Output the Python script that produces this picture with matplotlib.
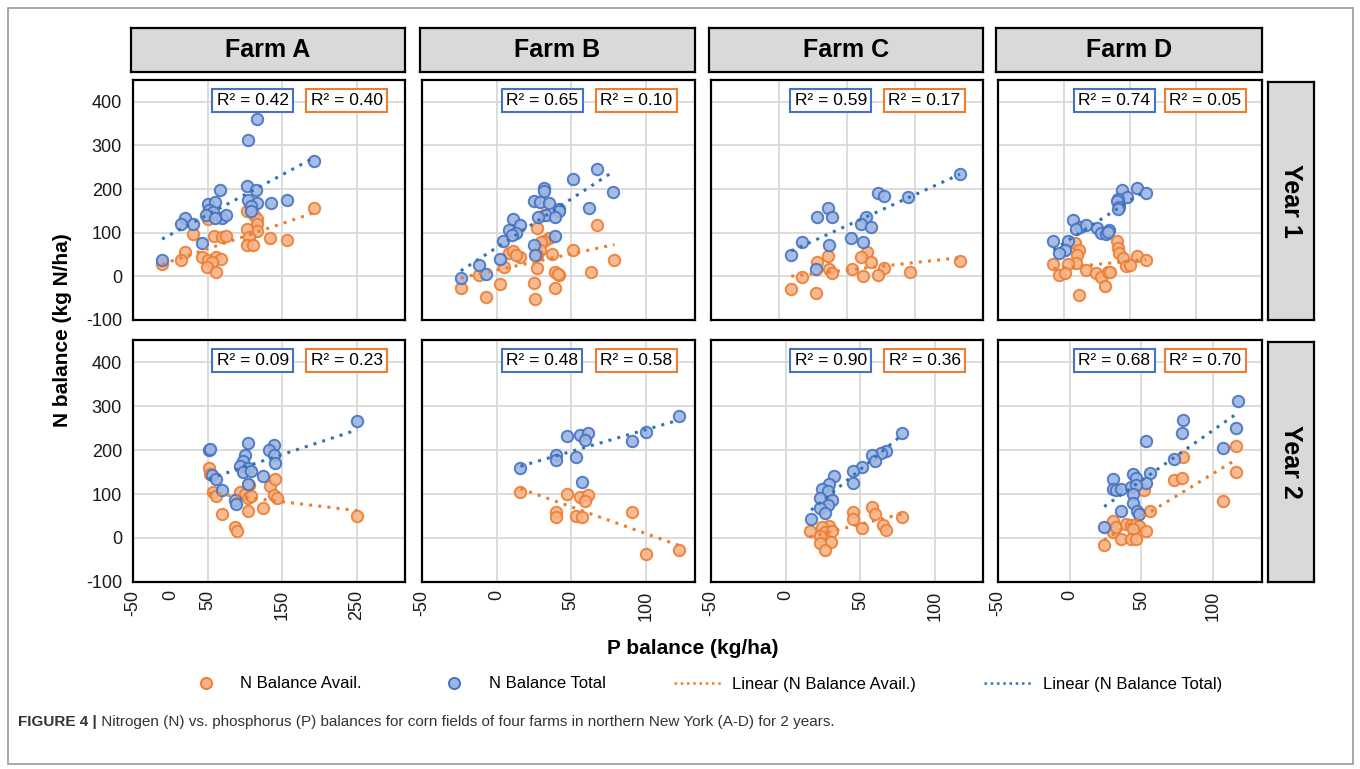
import numpy as np
import matplotlib
matplotlib.use('Agg')
import matplotlib.pyplot as plt
from matplotlib.lines import Line2D
from matplotlib.patches import Rectangle

plt.rcParams['font.family'] = ['Liberation Sans', 'DejaVu Sans']

# ---- data: (P balance, N balance) ----
# Farm A, year 1
a1_p_tot = [116, 104, 193, 67, 103, 115, 50, 60, 104, 117, 135, 157, 52, 57, 48, 70, 75, 60, 20, 14, 30, 108, 108, 43, -11]
a1_n_tot = [361, 313, 265, 199, 208, 198, 166, 171, 174, 168, 168, 175, 153, 147, 141, 134, 140, 134, 134, 120, 120, 161, 149, 76, 37]
a1_p_av = [193, 103, 112, 116, 116, 117, 103, 106, 134, 156, 103, 111, 59, 70, 75, 30, 50, 20, 14, -11, 43, 50, 61, 68, 56, 49, 61]
a1_n_av = [157, 149, 141, 131, 120, 103, 109, 91, 87, 83, 72, 73, 93, 91, 93, 97, 132, 56, 37, 29, 45, 37, 45, 39, 32, 22, 10]
# Farm B, year 1
b1_p_tot = [67, 78, 51, 62, 32, 32, 25, 29, 35, 42, 42, 33, 28, 39, 11, 16, 8, 13, 10, 4, 39, 25, 26, 2, -12, -7, -24]
b1_n_tot = [247, 193, 222, 156, 202, 195, 172, 170, 169, 155, 149, 140, 136, 136, 132, 117, 107, 99, 95, 82, 92, 71, 48, 40, 27, 6, -3]
b1_p_av = [32, 27, 67, 35, 32, 30, 51, 8, 11, 16, 13, 29, 27, 37, 5, 27, 79, 39, 42, 41, 63, -12, -24, 2, 25, 39, -7, 26]
b1_n_av = [141, 111, 118, 89, 82, 79, 60, 54, 57, 44, 48, 60, 48, 52, 21, 19, 37, 10, 2, 5, 10, 2, -26, -17, -15, -26, -47, -53]
# Farm C, year 1
c1_p_tot = [133, 95, 73, 77, 64, 60, 68, 36, 28, 39, 53, 62, 17, 37, 9, 27]
c1_n_tot = [234, 182, 191, 185, 135, 121, 112, 156, 137, 135, 87, 78, 79, 72, 50, 17]
c1_p_av = [133, 65, 60, 68, 77, 96, 73, 62, 54, 36, 28, 37, 39, 17, 9, 27]
c1_n_av = [36, 56, 45, 34, 19, 11, 2, 1, 17, 47, 34, 18, 8, -2, -29, -38]
# Farm D, year 1
d1_p_tot = [55, 62, 44, 48, 41, 40, 42, 41, 7, 12, 9, 17, 25, 28, 32, 34, 33, -8, 3, 0.5, -4]
d1_n_tot = [202, 192, 197, 182, 177, 172, 160, 154, 130, 113, 108, 118, 111, 99, 98, 107, 101, 80, 80, 61, 53]
d1_p_av = [40, 41, 42, 45, 47, 50, 55, 62, 8, 11, 10, 9, 3, -8, -4, 0.5, 17, 24, 28, 33, 35, 31, 11]
d1_n_av = [80, 65, 53, 42, 24, 27, 46, 37, 76, 61, 50, 31, 29, 29, 4, 8, 15, 8, -2, 9, 11, -23, -42]
# Farm A, year 2
a2_p_tot = [251, 52, 53, 104, 139, 133, 139, 141, 100, 97, 94, 104, 97, 109, 124, 56, 61, 69, 104, 87, 88]
a2_n_tot = [266, 199, 203, 216, 212, 199, 189, 170, 189, 174, 163, 158, 149, 152, 141, 143, 135, 109, 122, 86, 77]
a2_p_av = [251, 52, 53, 57, 61, 70, 87, 89, 104, 124, 94, 100, 104, 109, 134, 141, 139, 143, 105]
a2_n_av = [50, 158, 146, 105, 95, 55, 26, 15, 62, 68, 105, 99, 92, 96, 119, 134, 98, 90, 120]
# Farm B, year 2
b2_p_tot = [122, 100, 91, 47, 56, 61, 59, 40, 40, 53, 16, 57]
b2_n_tot = [277, 242, 221, 231, 233, 238, 223, 189, 178, 183, 158, 128]
b2_p_av = [16, 47, 56, 61, 59, 40, 40, 53, 57, 91, 100, 122]
b2_n_av = [105, 99, 93, 98, 84, 58, 47, 50, 47, 60, -36, -27]
# Farm C, year 2
c2_p_tot = [78, 67, 64, 58, 60, 51, 45, 45, 32, 29, 24, 28, 31, 23, 28, 23, 26, 17]
c2_n_tot = [238, 197, 193, 188, 174, 161, 152, 126, 141, 122, 111, 107, 86, 90, 75, 68, 56, 44]
c2_p_av = [78, 58, 60, 45, 45, 65, 67, 51, 29, 24, 16, 26, 31, 23, 30, 23, 26]
c2_n_av = [47, 71, 54, 60, 43, 30, 18, 23, 28, 24, 17, 13, 17, 5, -8, -12, -27]
# Farm D, year 2
d2_p_tot = [117, 116, 79, 78, 53, 107, 73, 56, 44, 30, 46, 53, 30, 32, 36, 43, 46, 44, 44, 36, 47, 48, 24]
d2_n_tot = [311, 250, 268, 238, 220, 204, 180, 147, 145, 134, 136, 126, 111, 109, 111, 117, 120, 100, 80, 61, 62, 55, 25]
d2_p_av = [116, 116, 79, 73, 78, 52, 107, 56, 30, 30, 32, 39, 43, 46, 48, 44, 53, 36, 43, 46, 24]
d2_n_av = [209, 149, 184, 132, 136, 110, 83, 62, 38, 14, 25, 32, 30, 32, 27, 21, 15, -3, -3, -3, -17]

farms = ['Farm A', 'Farm B', 'Farm C', 'Farm D']
years = ['Year 1', 'Year 2']
r2_total = [[0.42, 0.65, 0.59, 0.74], [0.09, 0.48, 0.90, 0.68]]
r2_avail = [[0.40, 0.10, 0.17, 0.05], [0.23, 0.58, 0.36, 0.70]]

panels = [
    [(a1_p_av, a1_n_av, a1_p_tot, a1_n_tot), (b1_p_av, b1_n_av, b1_p_tot, b1_n_tot),
     (c1_p_av, c1_n_av, c1_p_tot, c1_n_tot), (d1_p_av, d1_n_av, d1_p_tot, d1_n_tot)],
    [(a2_p_av, a2_n_av, a2_p_tot, a2_n_tot), (b2_p_av, b2_n_av, b2_p_tot, b2_n_tot),
     (c2_p_av, c2_n_av, c2_p_tot, c2_n_tot), (d2_p_av, d2_n_av, d2_p_tot, d2_n_tot)],
]

x_limits = [[(-50, 315), (-50, 133), (-50, 150), (-50, 150)],
            [(-50, 315), (-50, 133), (-50, 132), (-50, 134)]]
x_grid = [[50, 150, 250], [0, 50, 100], [0, 50, 100], [0, 50, 100]]
x_labels = [[-50, 0, 50, 150, 250], [-50, 0, 50, 100], [-50, 0, 50, 100], [-50, 0, 50, 100]]
y_ticks = [400, 300, 200, 100, 0, -100]

# ---- styling ----
BLUE_FILL, BLUE_EDGE, BLUE_LINE = '#9DB5E0', '#4472C4', '#2E75B6'
ORANGE_FILL, ORANGE_EDGE, ORANGE_LINE = '#F5B487', '#ED7D31', '#ED7D31'
GRID = '#D9D9D9'
STRIP = '#D9D9D9'

W, H = 1360, 769
fig = plt.figure(figsize=(W / 100, H / 100), dpi=100)


def px_rect(x0, y0, x1, y1):
    return [x0 / W, 1 - y1 / H, (x1 - x0) / W, (y1 - y0) / H]


col_px = [(133, 405), (422, 695), (711, 983), (998, 1262)]
row_px = [(80, 320), (340, 582)]

# outer frame
fig.patches.append(Rectangle((8 / W, 1 - 764 / H), (1353 - 8) / W, (764 - 8) / H,
                             transform=fig.transFigure, fill=False,
                             edgecolor='#9A9A9A', linewidth=1.2))

axes = []
for r in range(2):
    for c in range(4):
        ax = fig.add_axes(px_rect(col_px[c][0], row_px[r][0], col_px[c][1], row_px[r][1]))
        axes.append(ax)
        p_av, n_av, p_tot, n_tot = panels[r][c]

        ax.scatter(p_av, n_av, s=68, facecolor=ORANGE_FILL, edgecolor=ORANGE_EDGE,
                   linewidth=1.4, alpha=0.9, zorder=3)
        ax.scatter(p_tot, n_tot, s=68, facecolor=BLUE_FILL, edgecolor=BLUE_EDGE,
                   linewidth=1.4, alpha=0.9, zorder=3)

        # linear trend lines, fitted to the points
        for xs, ys, colr in ((p_av, n_av, ORANGE_LINE), (p_tot, n_tot, BLUE_LINE)):
            k, b = np.polyfit(xs, ys, 1)
            xx = np.array([min(xs), max(xs)])
            ax.plot(xx, k * xx + b, linestyle=(0, (1, 2)), color=colr, linewidth=2.2, zorder=4)

        ax.set_xlim(*x_limits[r][c])
        ax.set_ylim(-100, 450)
        ax.xaxis.remove_overlapping_locs = False
        ax.yaxis.remove_overlapping_locs = False
        # major ticks carry the gridlines, minor ticks carry the labels
        ax.set_xticks(x_grid[c])
        ax.set_xticks(x_labels[c], minor=True)
        ax.set_yticks([0, 100, 200, 300, 400])
        ax.set_yticks(y_ticks, minor=True)
        ax.grid(True, which='major', color=GRID, linewidth=1.3, zorder=0)
        ax.set_axisbelow(True)
        ax.tick_params(which='both', length=0)
        ax.set_xticklabels([])
        ax.set_yticklabels([])
        if r == 1:
            ax.set_xticklabels([str(v) for v in x_labels[c]], minor=True, rotation=90,
                               fontsize=13, color='#1a1a1a')
            ax.tick_params(axis='x', which='minor', pad=6)
        else:
            ax.set_xticklabels([], minor=True)
        if c == 0:
            ax.set_yticklabels([str(v) for v in y_ticks], minor=True, fontsize=13, color='#1a1a1a')
            ax.tick_params(axis='y', which='minor', pad=8)
        else:
            ax.set_yticklabels([], minor=True)
        for sp in ax.spines.values():
            sp.set_color('black')
            sp.set_linewidth(1.6)

        ax.text(0.44, 0.915, f'R\u00b2 = {r2_total[r][c]:.2f}', transform=ax.transAxes,
                ha='center', va='center', fontsize=12.5, zorder=6,
                bbox=dict(boxstyle='square,pad=0.25', facecolor='white',
                          edgecolor=BLUE_EDGE, linewidth=1.5))
        ax.text(0.785, 0.915, f'R\u00b2 = {r2_avail[r][c]:.2f}', transform=ax.transAxes,
                ha='center', va='center', fontsize=12.5, zorder=6,
                bbox=dict(boxstyle='square,pad=0.25', facecolor='white',
                          edgecolor=ORANGE_EDGE, linewidth=1.5))

# farm strips
for c, name in enumerate(farms):
    sax = fig.add_axes(px_rect(col_px[c][0] - 2, 28, col_px[c][1], 72))
    sax.set_facecolor(STRIP)
    sax.set_xticks([])
    sax.set_yticks([])
    for sp in sax.spines.values():
        sp.set_linewidth(1.6)
    sax.text(0.5, 0.5, name, transform=sax.transAxes, ha='center', va='center',
             fontsize=18, fontweight='bold')

# year strips
for r, name in enumerate(years):
    sax = fig.add_axes(px_rect(1268, row_px[r][0] + 2, 1314, row_px[r][1]))
    sax.set_facecolor(STRIP)
    sax.set_xticks([])
    sax.set_yticks([])
    for sp in sax.spines.values():
        sp.set_linewidth(1.6)
    sax.text(0.5, 0.5, name, transform=sax.transAxes, ha='center', va='center',
             fontsize=18, fontweight='bold', rotation=-90)

fig.text(62 / W, 1 - 330 / H, 'N balance (kg N/ha)', rotation=90, ha='center', va='center',
         fontsize=15, fontweight='bold')
fig.text(693 / W, 1 - 648 / H, 'P balance (kg/ha)', ha='center', va='center',
         fontsize=15, fontweight='bold')

handles = [
    Line2D([], [], linestyle='none', marker='o', markersize=8, markerfacecolor=ORANGE_FILL,
           markeredgecolor=ORANGE_EDGE, markeredgewidth=1.4),
    Line2D([], [], linestyle='none', marker='o', markersize=8, markerfacecolor=BLUE_FILL,
           markeredgecolor=BLUE_EDGE, markeredgewidth=1.4),
    Line2D([], [], linestyle=(0, (1, 1.5)), color=ORANGE_LINE, linewidth=1.8),
    Line2D([], [], linestyle=(0, (1, 1.5)), color=BLUE_LINE, linewidth=1.8),
]
labels = ['N Balance Avail.', 'N Balance Total', 'Linear (N Balance Avail.)',
          'Linear (N Balance Total)']
fig.legend(handles, labels, loc='center', bbox_to_anchor=(702 / W, 1 - 684 / H), ncol=4,
           frameon=False, fontsize=12, handlelength=2.9, columnspacing=4.1, handletextpad=0.6)

cap = fig.text(18 / W, 1 - 722 / H, 'FIGURE 4 |', ha='left', va='center', fontsize=11,
               fontweight='bold', color='#333333')
axes[0].annotate(' Nitrogen (N) vs. phosphorus (P) balances for corn fields of four farms in '
                 'northern New York (A-D) for 2 years.', xy=(1, 0.5), xycoords=cap,
                 ha='left', va='center', fontsize=11, color='#333333', annotation_clip=False)

fig.savefig('out.png', dpi=100)
